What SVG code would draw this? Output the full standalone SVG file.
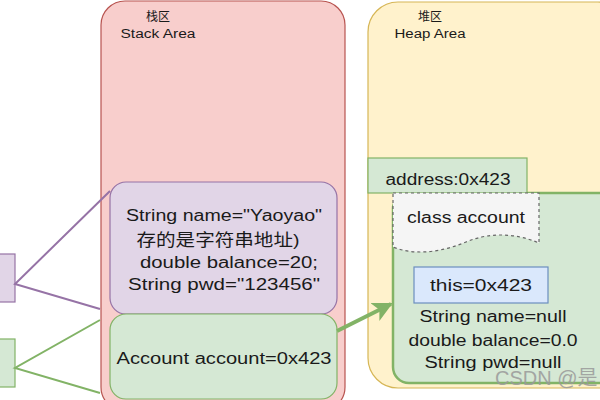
<svg xmlns="http://www.w3.org/2000/svg" width="600" height="400" viewBox="0 0 600 400">
<style>
  text { font-family: "Liberation Sans", "Noto Sans CJK SC", sans-serif; fill: #1a1a1a; text-anchor: middle; }
  .lbl { font-size: 12px; }
  .t { font-size: 16px; }
  .cjk { font-size: 17px; }
  .purple { fill: #e1d5e7; stroke: #9673a6; stroke-width: 1.2; }
  .green { fill: #d5e8d4; stroke: #82b366; stroke-width: 1.2; }
  .conn-p { stroke: #9673a6; stroke-width: 2; fill: none; }
  .conn-g { stroke: #82b366; stroke-width: 2; fill: none; }
  .wm { font-size: 20px; fill: #9a9a9a; text-anchor: start; opacity: 0.85; }
</style>
<defs>
  <marker id="arrow" viewBox="0 0 10 10" refX="9" refY="5" markerWidth="5" markerHeight="5" orient="auto" markerUnits="strokeWidth">
    <path d="M0,0 L10,5 L0,10 L2.5,5 Z" fill="#82b366"/>
  </marker>
</defs>
<rect width="600" height="400" fill="#ffffff"/>

<g id="stack-area">
  <rect x="101" y="1" width="244" height="410" rx="24" fill="#f8cecc" stroke="#b85450" stroke-width="1.2"/>
  <text class="lbl" x="158" y="21">栈区</text>
  <text class="lbl" x="158" y="38" textLength="75" lengthAdjust="spacingAndGlyphs">Stack Area</text>
</g>

<g id="heap-area">
  <rect x="368" y="2" width="260" height="386" rx="30" fill="#fff2cc" stroke="#d6b656" stroke-width="1.2"/>
  <text class="lbl" x="430" y="21">堆区</text>
  <text class="lbl" x="430" y="38" textLength="71" lengthAdjust="spacingAndGlyphs">Heap Area</text>
</g>

<g id="left-purple">
  <rect class="purple" x="-5" y="254" width="20" height="48"/>
</g>
<g id="left-green">
  <rect class="green" x="-5" y="339" width="20" height="48"/>
</g>

<g id="stack-fields">
  <rect class="purple" x="110" y="182" width="227" height="132" rx="16"/>
  <text class="t" x="224" y="221" textLength="196" lengthAdjust="spacingAndGlyphs">String name="Yaoyao"</text>
  <text class="cjk" x="218" y="246" textLength="163" lengthAdjust="spacingAndGlyphs">存的是字符串地址)</text>
  <text class="t" x="229" y="268" textLength="178" lengthAdjust="spacingAndGlyphs">double balance=20;</text>
  <text class="t" x="224" y="290" textLength="192" lengthAdjust="spacingAndGlyphs">String pwd="123456"</text>
</g>

<g id="stack-ref">
  <rect class="green" x="110" y="314" width="227" height="85" rx="16"/>
  <text class="t" x="224" y="364" textLength="215" lengthAdjust="spacingAndGlyphs">Account account=0x423</text>
</g>

<g id="heap-object">
  <rect x="393" y="193" width="230" height="190" rx="16" fill="#d5e8d4" stroke="#82b366" stroke-width="2.5"/>
  <text class="t" x="493" y="322" textLength="147" lengthAdjust="spacingAndGlyphs">String name=null</text>
  <text class="t" x="493" y="346" textLength="169" lengthAdjust="spacingAndGlyphs">double balance=0.0</text>
  <text class="t" x="493" y="368" textLength="137" lengthAdjust="spacingAndGlyphs">String pwd=null</text>
</g>

<g id="address">
  <rect class="green" x="368" y="158" width="159" height="35"/>
  <text class="t" x="448" y="185" textLength="125" lengthAdjust="spacingAndGlyphs">address:0x423</text>
</g>

<g id="class-account">
  <path d="M393,193 H539 V243 C515,233 490,232 466,242 C442,252 415,256 393,247 Z" fill="#f5f5f5" stroke="#666666" stroke-width="1.2" stroke-dasharray="3,3"/>
  <text class="t" x="466" y="223" textLength="118" lengthAdjust="spacingAndGlyphs">class account</text>
</g>

<g id="this">
  <rect x="414" y="267" width="134" height="36" fill="#dae8fc" stroke="#6c8ebf" stroke-width="1.2"/>
  <text class="t" x="481" y="291" textLength="102" lengthAdjust="spacingAndGlyphs">this=0x423</text>
</g>

<g id="connectors">
  <polyline class="conn-p" points="110,191 15,284 100,309"/>
  <polyline class="conn-g" points="100,320 15,368 100,393"/>
  <line x1="337" y1="331" x2="391" y2="304" stroke="#82b366" stroke-width="4" marker-end="url(#arrow)"/>
</g>

<text class="wm" x="495" y="385">CSDN @是</text>
</svg>
